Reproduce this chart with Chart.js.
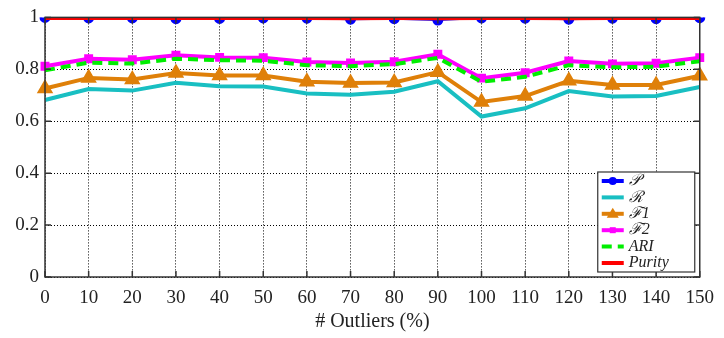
<!DOCTYPE html>
<html lang="en">
<head>
    <meta charset="UTF-8">
    <title>Outliers</title>
    <script src="https://cdn.jsdelivr.net/npm/chart.js@4.4.0/dist/chart.umd.min.js"></script>
    <style>
        html, body { margin: 0; padding: 0; background: #fff; }
        .chart-container { position: relative; width: 724px; height: 338px; }
    </style>
</head>
<body>
    <div class="chart-container">
        <canvas id="myChart" width="724" height="338"></canvas>
    </div>
    <script>
        // values
        var outliers = ['0', '10', '20', '30', '40', '50', '60', '70', '80', '90', '100', '110', '120', '130', '140', '150']
        var precision = [1.0, 0.998, 0.998, 0.995, 0.996, 0.998, 0.997, 0.993, 0.995, 0.99, 0.998, 0.997, 0.993, 0.997, 0.995, 0.999]
        var recall = [0.682, 0.724, 0.718, 0.748, 0.735, 0.734, 0.707, 0.702, 0.714, 0.754, 0.618, 0.650, 0.716, 0.695, 0.697, 0.732]
        var f1 = [0.726, 0.767, 0.761, 0.786, 0.776, 0.776, 0.752, 0.747, 0.749, 0.789, 0.674, 0.697, 0.756, 0.740, 0.740, 0.775]
        var f2 = [0.812, 0.841, 0.837, 0.854, 0.846, 0.845, 0.828, 0.824, 0.829, 0.858, 0.766, 0.787, 0.832, 0.821, 0.823, 0.845]
        var ari = [0.796, 0.826, 0.822, 0.841, 0.835, 0.833, 0.816, 0.812, 0.820, 0.844, 0.752, 0.771, 0.816, 0.808, 0.810, 0.831]
        var purity = [0.998, 0.998, 0.998, 0.998, 0.998, 0.998, 0.998, 0.997, 0.998, 0.997, 0.998, 0.998, 0.997, 0.998, 0.998, 0.998]
        var legendNames = ['\uD835\uDCAB', '\u211B', '\u21311', '\u21312', 'ARI', 'Purity']

        var serif = "'Liberation Serif', 'DejaVu Serif', serif"
        var ctx = document.getElementById('myChart').getContext('2d');

        // box, inward ticks and the legend inside the plot
        var framePlugin = {
            id: 'frame',
            afterDraw: function (chart) {
                var a = chart.chartArea
                var c = chart.ctx
                var xs = chart.scales.x, ys = chart.scales.y
                c.save()
                c.strokeStyle = '#333'
                c.lineWidth = 1.5
                c.strokeRect(a.left, a.top, a.right - a.left, a.bottom - a.top)
                c.beginPath()
                for (var i = 0; i < xs.ticks.length; i++) {
                    var px = xs.getPixelForTick(i)
                    c.moveTo(px, a.bottom); c.lineTo(px, a.bottom - 6)
                    c.moveTo(px, a.top); c.lineTo(px, a.top + 6)
                }
                for (var j = 0; j < ys.ticks.length; j++) {
                    var py = ys.getPixelForTick(j)
                    c.moveTo(a.left, py); c.lineTo(a.left + 6, py)
                    c.moveTo(a.right, py); c.lineTo(a.right - 6, py)
                }
                c.stroke()

                // legend
                var bw = 97, bh = 100
                var bx = a.right - bw - 5, by = a.bottom - bh - 5
                c.fillStyle = '#fff'
                c.fillRect(bx, by, bw, bh)
                c.strokeStyle = '#333'
                c.lineWidth = 1.2
                c.strokeRect(bx, by, bw, bh)
                chart.data.datasets.forEach(function (ds, k) {
                    var y = by + 9 + k * 16.4
                    c.strokeStyle = ds.borderColor
                    c.lineWidth = 4
                    c.setLineDash(ds.borderDash || [])
                    c.beginPath(); c.moveTo(bx + 4, y); c.lineTo(bx + 26, y); c.stroke()
                    c.setLineDash([])
                    if (ds.pointRadius > 0) {
                        c.fillStyle = ds.borderColor
                        c.beginPath()
                        if (ds.pointStyle === 'triangle') {
                            c.moveTo(bx + 15, y - 6); c.lineTo(bx + 21, y + 4); c.lineTo(bx + 9, y + 4)
                        } else if (ds.pointStyle === 'rect') {
                            c.rect(bx + 12, y - 3, 6, 6)
                        } else {
                            c.arc(bx + 15, y, 4, 0, Math.PI * 2)
                        }
                        c.fill()
                    }
                    c.fillStyle = '#222'
                    c.font = 'italic 16px ' + serif
                    c.textBaseline = 'middle'
                    c.fillText(legendNames[k], bx + 31, y)
                })
                c.restore()
            }
        }

        var myChart = new Chart(ctx, {
            type: 'line',
            data: {
                labels: outliers,
                datasets: [{
                    label: 'P',
                    data: precision,
                    borderColor: '#0000ff',
                    backgroundColor: '#0000ff',
                    borderWidth: 2,
                    pointRadius: 4.5,
                    pointStyle: 'circle',
                    order: 2
                }, {
                    label: 'R',
                    data: recall,
                    borderColor: '#19bfc2',
                    backgroundColor: '#19bfc2',
                    borderWidth: 4,
                    pointRadius: 0,
                    order: 5
                }, {
                    label: 'F1',
                    data: f1,
                    borderColor: '#df8009',
                    backgroundColor: '#df8009',
                    borderWidth: 4,
                    pointRadius: 5.5,
                    pointStyle: 'triangle',
                    order: 4
                }, {
                    label: 'F2',
                    data: f2,
                    borderColor: '#ff00ff',
                    backgroundColor: '#ff00ff',
                    borderWidth: 4,
                    pointRadius: 3.5,
                    pointStyle: 'rect',
                    order: 6
                }, {
                    label: 'ARI',
                    data: ari,
                    borderColor: '#00ee00',
                    backgroundColor: '#00ee00',
                    borderWidth: 4,
                    borderDash: [10, 6],
                    pointRadius: 0,
                    order: 3
                }, {
                    label: 'Purity',
                    data: purity,
                    borderColor: '#ff0000',
                    backgroundColor: '#ff0000',
                    borderWidth: 4,
                    pointRadius: 0,
                    order: 1
                }]
            },
            options: {
                responsive: false,
                animation: false,
                devicePixelRatio: 1,
                layout: { padding: { top: 15, right: 21 } },
                elements: { line: { tension: 0 } },
                plugins: {
                    legend: { display: false },
                    tooltip: { enabled: false }
                },
                scales: {
                    x: {
                        offset: false,
                        grid: { color: '#000', lineWidth: 1, tickLength: 0 },
                        border: { display: false, dash: [1, 2] },
                        ticks: { color: '#222', font: { family: serif, size: 19 }, maxRotation: 0, autoSkip: false, padding: 10 },
                        title: { display: true, text: '# Outliers (%)', color: '#222', font: { family: serif, size: 20 }, padding: { top: 0 } },
                        afterFit: function (s) { s.height = 61 }
                    },
                    y: {
                        min: 0,
                        max: 1,
                        grid: { color: '#000', lineWidth: 1, tickLength: 0 },
                        border: { display: false, dash: [1, 2] },
                        ticks: { stepSize: 0.2, color: '#222', font: { family: serif, size: 19 }, padding: 6,
                            callback: function (v) { return Math.round(v * 10) / 10 + '' } },
                        afterFit: function (s) { s.width = 45 }
                    }
                }
            },
            plugins: [framePlugin]
        });
    </script>
</body>
</html>
